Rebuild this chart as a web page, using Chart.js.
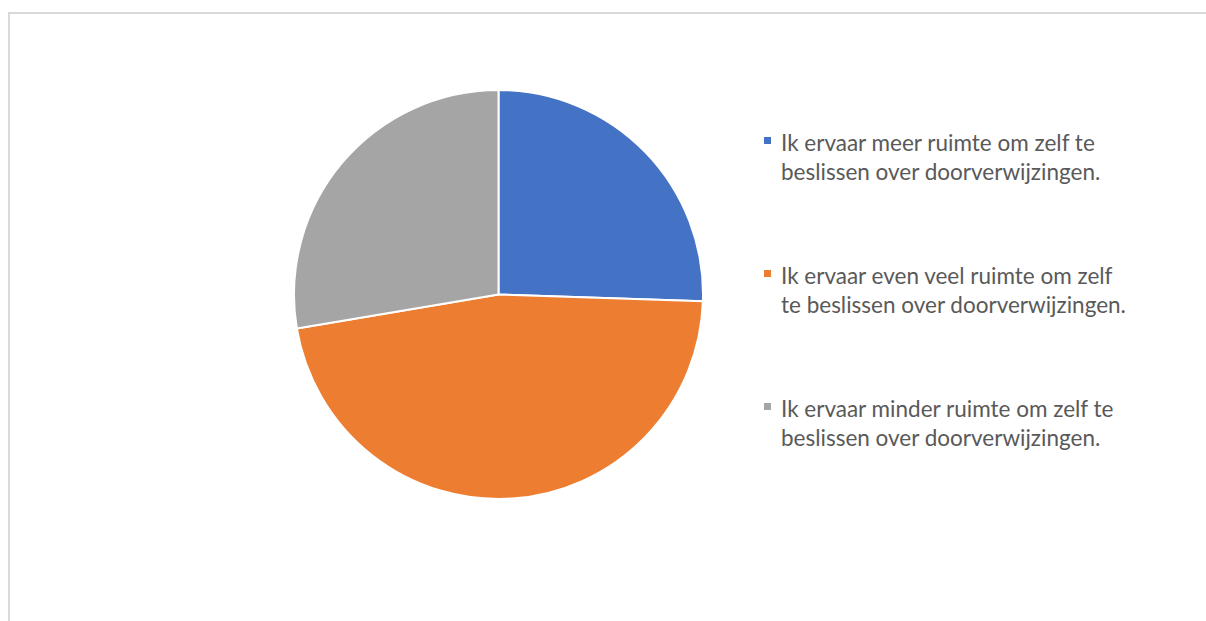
<!DOCTYPE html>
<html>
<head>
<meta charset="utf-8">
<script src="https://cdn.jsdelivr.net/npm/chart.js@4"></script>
<style>
  html, body { margin: 0; padding: 0; background: #fff; }
  body { width: 1206px; height: 621px; position: relative; overflow: hidden; }
  #frame {
    position: absolute; left: 8px; top: 12px; width: 1300px; height: 700px;
    border-top: 2px solid #d9d9d9; border-left: 2px solid #d9d9d9;
  }
  #pieBox { position: absolute; left: 293px; top: 89px; width: 411px; height: 411px; }
  #legend { position: absolute; left: 764px; top: 128px; }
  .item { position: relative; padding-left: 17px; height: 133px;
    font-family: Lato, "Open Sans", sans-serif; font-size: 22.5px; line-height: 29px; color: #595959; }
  .item .sw { position: absolute; left: 0; top: 9px; width: 7px; height: 7px; }
</style>
</head>
<body>
<div id="frame"></div>
<div id="pieBox"><canvas id="pie"></canvas></div>
<div id="legend"></div>
<script>
document.addEventListener("DOMContentLoaded", function () {
  // answers (line breaks as in the legend)
  const categories = [
    ["Ik ervaar meer ruimte om zelf te", "beslissen over doorverwijzingen."],
    ["Ik ervaar even veel ruimte om zelf", "te beslissen over doorverwijzingen."],
    ["Ik ervaar minder ruimte om zelf te", "beslissen over doorverwijzingen."]
  ];
  const counts = [12, 22, 13];
  const colors = ["#4472C4", "#ED7D31", "#A5A5A5"];

  const legendDiv = document.getElementById("legend");
  categories.forEach(function (lines, i) {
    const item = document.createElement("div");
    item.className = "item";
    item.innerHTML = '<span class="sw" style="background:' + colors[i] + '"></span>' + lines.join("<br>");
    legendDiv.appendChild(item);
  });

  const ctx = document.getElementById("pie").getContext("2d");
  new Chart(ctx, {
    type: 'pie',
    data: {
      labels: categories.map(function (l) { return l.join(" "); }),
      datasets: [{
        data: counts,
        backgroundColor: colors,
        borderColor: '#ffffff',
        borderWidth: 2
      }]
    },
    options: {
      responsive: true,
      maintainAspectRatio: false,
      animation: false,
      layout: { padding: 0 },
      plugins: {
        legend: { display: false },
        tooltip: { enabled: false }
      }
    }
  });
});
</script>
</body>
</html>
